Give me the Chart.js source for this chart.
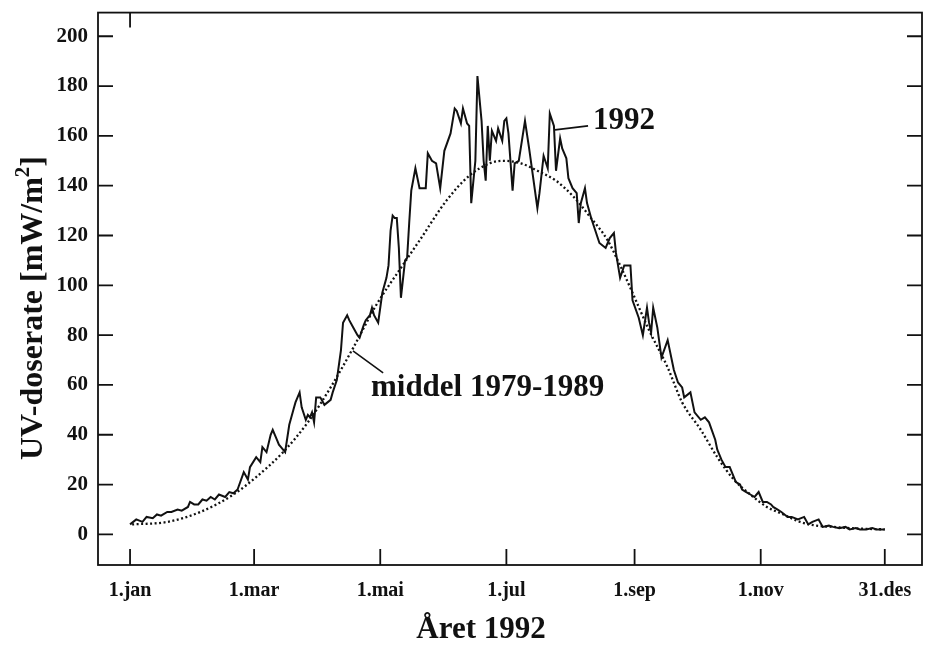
<!DOCTYPE html>
<html>
<head>
<meta charset="utf-8">
<script src="https://cdn.jsdelivr.net/npm/chart.js@4.4.0/dist/chart.umd.min.js"></script>
<style>
  html, body { margin: 0; padding: 0; background: #fff; }
</style>
</head>
<body>
<canvas id="uvChart" width="928" height="646"></canvas>
<script>
// day of year (0 = 1.jan) and daily UV dose rate for 1992
const days92 = [0,3,6,8,11,13,15,18,20,23,
  25,28,29,31,33,35,37,39,41,43,
  46,48,50,52,55,57,58,61,63,64,
  66,68,69,71,72,73,75,77,79,80,
  82,83,85,86,87,88,89,90,92,94,
  97,98,100,102,103,105,106,108,110,111,
  113,114,116,117,118,120,122,124,125,126,
  127,128,129,130,131,133,134,135,136,138,
  139,140,143,144,146,148,150,152,155,157,
  158,160,161,163,164,165,167,168,170,171,
  172,173,174,175,177,178,180,181,182,183,
  185,186,188,191,193,197,198,200,202,203,
  205,206,208,209,211,212,214,216,217,218,
  220,221,223,225,227,230,232,234,235,237,
  239,242,243,246,248,250,251,252,253,255,
  257,260,263,265,267,268,271,273,276,278,
  280,283,284,286,288,290,293,295,296,298,
  300,302,304,306,308,310,311,313,315,318,
  320,323,326,328,330,333,335,338,340,343,
  346,348,351,353,356,359,361,365];
const uv92 = [4,6,5,7,6.5,8,7.5,9,9,10,
  9.5,11,13,12,12,14,13.5,15,14,16,
  15,17,16.5,18,25,22,27,31,29,35,
  33,40,42,38,36,35,33,44,50,53,
  57,51,46,48,47,49,45,55,55,52,
  54,57,62,74,85,88,86,83,80,79,
  84,86,88,91,88,85,97,103,108,122,
  128,127,127,115,95,110,111,125,138,147,
  143,139,139,153,150,149,139,154,161,171,
  170,165,171,165,164,133,150,184,166,150,
  142,164,150,162,158,163,158,166,167,161,
  138,149,150,166,155,131,137,152,147,169,
  164,146,159,155,151,143,139,137,125,133,
  139,133,127,122,117,115,119,121,113,103,
  108,108,94,87,80,91,85,81,91,83,
  71,78,66,61,59,55,57,49,46,47,
  45,38,34,30,27,27,21,20,18,17,
  16,15,17,13,13,12,11,10,9,7,
  7,6,7,4,5,6,3,3.5,3,2.5,
  3,2,2.5,2,2,2.5,2,2];

// mean 1979-1989
const meanDays = [1,18,34,50,61,74,86,97,108,119,131,140,153,164,174,180,189,197,206,214,
  222,231,237,243,251,260,267,276,284,292,300,308,316,324,332,340,348,365];
const meanUV = [4,5,9,16,23,33,45,59,75,92,107,118,134,144,149,150,149,146,142,136,
  128,118,108,97,82,67,53,42,31,22,16,11,8,5,3.5,3,2.5,2];

const tickDays = [0, 60, 121, 182, 244, 305, 365];
const tickLabels = ['1.jan', '1.mar', '1.mai', '1.jul', '1.sep', '1.nov', '31.des'];
const yTicks = [0, 20, 40, 60, 80, 100, 120, 140, 160, 180, 200];

const ink = '#111';
const serif = '"Liberation Serif", "Times New Roman", serif';

const toPoints = (xs, ys) => xs.map((d, i) => ({x: d, y: ys[i]}));

const framePlugin = {
    id: 'frame',
    afterDatasetsDraw(chart) {
        const {ctx, chartArea: a, scales: {x, y}} = chart;
        ctx.save();
        ctx.strokeStyle = ink;
        ctx.fillStyle = ink;
        ctx.lineWidth = 1.8;
        ctx.strokeRect(a.left, a.top, a.right - a.left, a.bottom - a.top);

        // inward tick marks
        ctx.beginPath();
        yTicks.forEach(v => {
            const py = y.getPixelForValue(v);
            ctx.moveTo(a.left, py); ctx.lineTo(a.left + 15, py);
            ctx.moveTo(a.right - 15, py); ctx.lineTo(a.right, py);
        });
        tickDays.forEach(d => {
            const px = x.getPixelForValue(d);
            ctx.moveTo(px, a.bottom); ctx.lineTo(px, a.bottom - 16);
        });
        const p0 = x.getPixelForValue(tickDays[0]);
        ctx.moveTo(p0, a.top); ctx.lineTo(p0, a.top + 15);
        ctx.stroke();

        // labels with leader lines
        ctx.lineWidth = 1.6;
        ctx.beginPath();
        ctx.moveTo(x.getPixelForValue(205.5), y.getPixelForValue(162.4));
        ctx.lineTo(x.getPixelForValue(221.5), y.getPixelForValue(164));
        ctx.moveTo(x.getPixelForValue(107.8), y.getPixelForValue(73.7));
        ctx.lineTo(x.getPixelForValue(122.4), y.getPixelForValue(64.8));
        ctx.stroke();

        ctx.font = 'bold 31px ' + serif;
        ctx.textAlign = 'left';
        ctx.textBaseline = 'middle';
        ctx.fillText('1992', x.getPixelForValue(223.9), y.getPixelForValue(165.8));
        ctx.fillText('middel 1979-1989', x.getPixelForValue(116.5), y.getPixelForValue(58.6));

        // x axis title
        ctx.textAlign = 'center';
        ctx.textBaseline = 'alphabetic';
        ctx.fillText('Året 1992', 481, 638);

        // y axis title, rotated, with superscript
        const big = 'bold 32px ' + serif, small = 'bold 21px ' + serif;
        ctx.translate(42, 308);
        ctx.rotate(-Math.PI / 2);
        ctx.textAlign = 'left';
        ctx.font = big;
        const t1 = 'UV-doserate [mW/m', t3 = ']';
        const w1 = ctx.measureText(t1).width, w3 = ctx.measureText(t3).width;
        ctx.font = small;
        const w2 = ctx.measureText('2').width;
        let sx = -(w1 + w2 + w3) / 2;
        ctx.font = big; ctx.fillText(t1, sx, 0); sx += w1;
        ctx.font = small; ctx.fillText('2', sx, -13); sx += w2;
        ctx.font = big; ctx.fillText(t3, sx, 0);
        ctx.restore();
    }
};

const chart = new Chart(document.getElementById('uvChart'), {
    type: 'line',
    data: {
        datasets: [{
            label: '1992',
            data: toPoints(days92, uv92),
            borderColor: ink,
            borderWidth: 2,
            pointRadius: 0,
            tension: 0
        }, {
            label: 'middel 1979-1989',
            data: toPoints(meanDays, meanUV),
            borderColor: ink,
            borderWidth: 2.3,
            borderDash: [2, 2.5],
            pointRadius: 0,
            cubicInterpolationMode: 'monotone'
        }]
    },
    options: {
        responsive: false,
        animation: false,
        devicePixelRatio: 1,
        layout: { padding: { top: 0, right: 6, left: 0, bottom: 0 } },
        plugins: { legend: { display: false }, tooltip: { enabled: false } },
        scales: {
            x: {
                type: 'linear',
                min: -15.5,
                max: 383,
                afterBuildTicks: s => { s.ticks = tickDays.map(v => ({value: v})); },
                afterFit: s => { s.height = 81; },
                grid: { display: false, drawTicks: false },
                border: { display: false },
                ticks: {
                    autoSkip: false,
                    maxRotation: 0,
                    padding: 14,
                    color: ink,
                    font: { family: serif, size: 20, weight: 'bold' },
                    callback: (v) => tickLabels[tickDays.indexOf(v)]
                }
            },
            y: {
                min: -12.3,
                max: 209.5,
                afterBuildTicks: s => { s.ticks = yTicks.map(v => ({value: v})); },
                afterFit: s => { s.width = 98; },
                grid: { display: false, drawTicks: true, tickLength: 10 },
                border: { display: false },
                ticks: {
                    padding: 0,
                    color: ink,
                    font: { family: serif, size: 21, weight: 'bold' }
                }
            }
        }
    },
    plugins: [framePlugin]
});
</script>
</body>
</html>
